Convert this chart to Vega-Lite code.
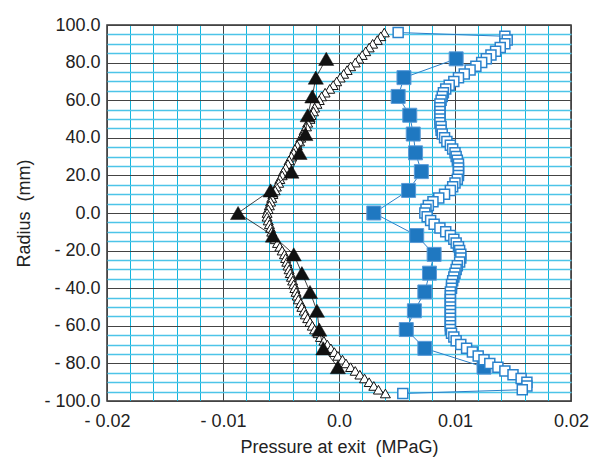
{
  "$schema": "https://vega.github.io/schema/vega-lite/v6.json",
  "autosize": {"type": "none"},
  "padding": {"left": 107, "top": 25, "right": 23, "bottom": 58},
  "width": 464,
  "height": 376,
  "background": "white",
  "config": {
    "view": {"stroke": "#333", "strokeWidth": 1.5},
    "axis": {
      "domain": false,
      "ticks": false,
      "tickSize": 0,
      "labelFont": "Liberation Sans",
      "labelFontSize": 18,
      "labelColor": "#222",
      "titleFont": "Liberation Sans",
      "titleFontSize": 18,
      "titleFontWeight": "normal",
      "titleColor": "#222",
      "labelOverlap": false,
      "labelFlush": false
    }
  },
  "datasets": {
    "ft": [
      {"r": 82, "p": -0.0011}, {"r": 72, "p": -0.0020}, {"r": 62, "p": -0.0023},
      {"r": 52, "p": -0.0027}, {"r": 42, "p": -0.0029}, {"r": 32, "p": -0.0034},
      {"r": 22, "p": -0.0041}, {"r": 12, "p": -0.0059}, {"r": 0, "p": -0.0087},
      {"r": -12, "p": -0.0057}, {"r": -22, "p": -0.0039}, {"r": -32, "p": -0.0032},
      {"r": -42, "p": -0.0025}, {"r": -52, "p": -0.0019}, {"r": -62, "p": -0.0017},
      {"r": -72, "p": -0.00135}, {"r": -82, "p": -0.0001}
    ],
    "ot": [
      {"r": 96, "p": 0.0039}, {"r": 94, "p": 0.0036}, {"r": 92, "p": 0.0033}, {"r": 90, "p": 0.0029},
      {"r": 88, "p": 0.0026}, {"r": 86, "p": 0.0023}, {"r": 84, "p": 0.0020}, {"r": 82, "p": 0.0017},
      {"r": 80, "p": 0.0014}, {"r": 78, "p": 0.0010}, {"r": 76, "p": 0.0007}, {"r": 74, "p": 0.0004},
      {"r": 72, "p": 0.0001}, {"r": 70, "p": -0.0002}, {"r": 68, "p": -0.0005}, {"r": 66, "p": -0.0008},
      {"r": 64, "p": -0.0012}, {"r": 62, "p": -0.0015}, {"r": 60, "p": -0.0017}, {"r": 58, "p": -0.0019},
      {"r": 56, "p": -0.0021}, {"r": 54, "p": -0.0022}, {"r": 52, "p": -0.0024}, {"r": 50, "p": -0.0025},
      {"r": 48, "p": -0.0027}, {"r": 46, "p": -0.0028}, {"r": 44, "p": -0.0030}, {"r": 42, "p": -0.0031},
      {"r": 40, "p": -0.0033}, {"r": 38, "p": -0.0034}, {"r": 36, "p": -0.0036}, {"r": 34, "p": -0.0038},
      {"r": 32, "p": -0.0039}, {"r": 30, "p": -0.0041}, {"r": 28, "p": -0.0043}, {"r": 26, "p": -0.0044},
      {"r": 24, "p": -0.0046}, {"r": 22, "p": -0.0048}, {"r": 20, "p": -0.0049}, {"r": 18, "p": -0.0051},
      {"r": 16, "p": -0.0052}, {"r": 14, "p": -0.0054}, {"r": 12, "p": -0.0055}, {"r": 10, "p": -0.0057},
      {"r": 8, "p": -0.0058}, {"r": 6, "p": -0.0059}, {"r": 4, "p": -0.0060}, {"r": 2, "p": -0.0061},
      {"r": 0, "p": -0.0062}, {"r": -2, "p": -0.0062}, {"r": -4, "p": -0.0061}, {"r": -6, "p": -0.0060},
      {"r": -8, "p": -0.0059}, {"r": -10, "p": -0.0058}, {"r": -12, "p": -0.0057}, {"r": -14, "p": -0.0055},
      {"r": -16, "p": -0.0053}, {"r": -18, "p": -0.0051}, {"r": -20, "p": -0.0049}, {"r": -22, "p": -0.0047},
      {"r": -24, "p": -0.0046}, {"r": -26, "p": -0.0045}, {"r": -28, "p": -0.0044}, {"r": -30, "p": -0.0043},
      {"r": -32, "p": -0.0042}, {"r": -34, "p": -0.0041}, {"r": -36, "p": -0.0040}, {"r": -38, "p": -0.0039},
      {"r": -40, "p": -0.0038}, {"r": -42, "p": -0.0037}, {"r": -44, "p": -0.0036}, {"r": -46, "p": -0.0035},
      {"r": -48, "p": -0.0033}, {"r": -50, "p": -0.0032}, {"r": -52, "p": -0.0030}, {"r": -54, "p": -0.0029},
      {"r": -56, "p": -0.0027}, {"r": -58, "p": -0.0025}, {"r": -60, "p": -0.0023}, {"r": -62, "p": -0.0021},
      {"r": -64, "p": -0.0018}, {"r": -66, "p": -0.0016}, {"r": -68, "p": -0.0013}, {"r": -70, "p": -0.0010},
      {"r": -72, "p": -0.0007}, {"r": -74, "p": -0.0004}, {"r": -76, "p": -0.0001}, {"r": -78, "p": 0.0003},
      {"r": -80, "p": 0.0006}, {"r": -82, "p": 0.0010}, {"r": -84, "p": 0.0014}, {"r": -86, "p": 0.0018},
      {"r": -88, "p": 0.0022}, {"r": -90, "p": 0.0026}, {"r": -92, "p": 0.0030}, {"r": -94, "p": 0.0034},
      {"r": -96, "p": 0.0040}
    ],
    "fs": [
      {"r": 82, "p": 0.0101}, {"r": 72, "p": 0.0056}, {"r": 62, "p": 0.0051},
      {"r": 52, "p": 0.0061}, {"r": 42, "p": 0.0064}, {"r": 32, "p": 0.0066},
      {"r": 22, "p": 0.0071}, {"r": 12, "p": 0.0060}, {"r": 0, "p": 0.0030},
      {"r": -12, "p": 0.0067}, {"r": -22, "p": 0.0082}, {"r": -32, "p": 0.0078},
      {"r": -42, "p": 0.0074}, {"r": -52, "p": 0.0065}, {"r": -62, "p": 0.0058},
      {"r": -72, "p": 0.0074}, {"r": -82, "p": 0.0125}
    ],
    "os": [
      {"r": 96, "p": 0.0051}, {"r": 94, "p": 0.0143}, {"r": 92, "p": 0.0145}, {"r": 90, "p": 0.0143},
      {"r": 88, "p": 0.0139}, {"r": 86, "p": 0.0135}, {"r": 84, "p": 0.0131}, {"r": 82, "p": 0.0127},
      {"r": 80, "p": 0.0123}, {"r": 78, "p": 0.0118}, {"r": 76, "p": 0.0113}, {"r": 74, "p": 0.0108},
      {"r": 72, "p": 0.0103}, {"r": 70, "p": 0.0099}, {"r": 68, "p": 0.0095}, {"r": 66, "p": 0.0092},
      {"r": 64, "p": 0.0090}, {"r": 62, "p": 0.0089}, {"r": 60, "p": 0.0088}, {"r": 58, "p": 0.0087},
      {"r": 56, "p": 0.0087}, {"r": 54, "p": 0.0087}, {"r": 52, "p": 0.0087}, {"r": 50, "p": 0.0087},
      {"r": 48, "p": 0.0087}, {"r": 46, "p": 0.0088}, {"r": 44, "p": 0.0088}, {"r": 42, "p": 0.0089},
      {"r": 40, "p": 0.0091}, {"r": 38, "p": 0.0093}, {"r": 36, "p": 0.0096}, {"r": 34, "p": 0.0098},
      {"r": 32, "p": 0.0100}, {"r": 30, "p": 0.0101}, {"r": 28, "p": 0.0102}, {"r": 26, "p": 0.0103},
      {"r": 24, "p": 0.0103}, {"r": 22, "p": 0.0103}, {"r": 20, "p": 0.0103}, {"r": 18, "p": 0.0102},
      {"r": 16, "p": 0.0100}, {"r": 14, "p": 0.0098}, {"r": 12, "p": 0.0096}, {"r": 10, "p": 0.0091},
      {"r": 8, "p": 0.0086}, {"r": 6, "p": 0.0081}, {"r": 4, "p": 0.0077}, {"r": 2, "p": 0.0075},
      {"r": 0, "p": 0.0074}, {"r": -2, "p": 0.0076}, {"r": -4, "p": 0.0079}, {"r": -6, "p": 0.0082},
      {"r": -8, "p": 0.0087}, {"r": -10, "p": 0.0092}, {"r": -12, "p": 0.0096}, {"r": -14, "p": 0.0099},
      {"r": -16, "p": 0.0101}, {"r": -18, "p": 0.0103}, {"r": -20, "p": 0.0104}, {"r": -22, "p": 0.0105},
      {"r": -24, "p": 0.0105}, {"r": -26, "p": 0.0104}, {"r": -28, "p": 0.0102}, {"r": -30, "p": 0.0101},
      {"r": -32, "p": 0.0100}, {"r": -34, "p": 0.0099}, {"r": -36, "p": 0.0098}, {"r": -38, "p": 0.0097},
      {"r": -40, "p": 0.0097}, {"r": -42, "p": 0.0096}, {"r": -44, "p": 0.0096}, {"r": -46, "p": 0.0096},
      {"r": -48, "p": 0.0096}, {"r": -50, "p": 0.0096}, {"r": -52, "p": 0.0096}, {"r": -54, "p": 0.0096},
      {"r": -56, "p": 0.0096}, {"r": -58, "p": 0.0096}, {"r": -60, "p": 0.0096}, {"r": -62, "p": 0.0096},
      {"r": -64, "p": 0.0097}, {"r": -66, "p": 0.0099}, {"r": -68, "p": 0.0101}, {"r": -70, "p": 0.0105},
      {"r": -72, "p": 0.0110}, {"r": -74, "p": 0.0115}, {"r": -76, "p": 0.0120}, {"r": -78, "p": 0.0125},
      {"r": -80, "p": 0.0130}, {"r": -82, "p": 0.0137}, {"r": -84, "p": 0.0143}, {"r": -86, "p": 0.0150},
      {"r": -88, "p": 0.0157}, {"r": -90, "p": 0.0162}, {"r": -92, "p": 0.0162}, {"r": -94, "p": 0.0158},
      {"r": -96, "p": 0.0055}
    ]
  },
  "encoding": {
    "x": {
      "field": "p", "type": "quantitative",
      "scale": {"domain": [-0.02, 0.02], "nice": false, "zero": false},
      "axis": {
        "title": "Pressure at exit\u00a0 (MPaG)",
        "values": [-0.02, -0.018, -0.016, -0.014, -0.012, -0.01, -0.008, -0.006, -0.004, -0.002, 0, 0.002, 0.004, 0.006, 0.008, 0.01, 0.012, 0.014, 0.016, 0.018, 0.02],
        "labelExpr": "abs(datum.value*100 - round(datum.value*100)) < 1e-6 ? (datum.value < -1e-9 ? '- ' + format(-datum.value, '.2f') : (abs(datum.value) < 1e-9 ? '0.0' : format(datum.value, '.2f'))) : ''",
        "labelPadding": 11,
        "titlePadding": 8,
        "gridColor": {"condition": {"test": "abs(datum.value*100 - round(datum.value*100)) < 1e-6", "value": "#444"}, "value": "#12b5dc"},
        "gridWidth": 1,
        "gridOpacity": 1
      }
    },
    "y": {
      "field": "r", "type": "quantitative",
      "scale": {"domain": [-100, 100], "nice": false, "zero": false},
      "axis": {
        "title": "Radius\u00a0 (mm)",
        "values": [-100, -95, -90, -85, -80, -75, -70, -65, -60, -55, -50, -45, -40, -35, -30, -25, -20, -15, -10, -5, 0, 5, 10, 15, 20, 25, 30, 35, 40, 45, 50, 55, 60, 65, 70, 75, 80, 85, 90, 95, 100],
        "labelExpr": "datum.value % 20 == 0 ? (datum.value < 0 ? '- ' + format(-datum.value, '.1f') : format(datum.value, '.1f')) : ''",
        "labelPadding": 7,
        "titlePadding": 10,
        "gridColor": {"condition": {"test": "datum.value % 20 == 0", "value": "#444"}, "value": "#4cc4e8"},
        "gridWidth": {"condition": {"test": "datum.value % 20 == 0", "value": 1}, "value": 1.5},
        "gridOpacity": 1
      }
    }
  },
  "layer": [
    {
      "data": {"name": "ot"},
      "mark": {"type": "line", "color": "#111", "strokeWidth": 0.8},
      "encoding": {"order": {"field": "r", "sort": "descending"}}
    },
    {
      "data": {"name": "ot"},
      "mark": {"type": "point", "shape": "triangle-up", "size": 100, "filled": true, "fill": "white", "stroke": "#111", "strokeWidth": 1, "opacity": 1}
    },
    {
      "data": {"name": "ft"},
      "mark": {"type": "line", "color": "#111", "strokeWidth": 0.8},
      "encoding": {"order": {"field": "r", "sort": "descending"}}
    },
    {
      "data": {"name": "ft"},
      "mark": {"type": "point", "shape": "triangle-up", "size": 230, "filled": true, "fill": "#111", "stroke": "#111", "strokeWidth": 0.5, "opacity": 1}
    },
    {
      "data": {"name": "fs"},
      "mark": {"type": "line", "color": "#2a80c8", "strokeWidth": 1},
      "encoding": {"order": {"field": "r", "sort": "descending"}}
    },
    {
      "data": {"name": "fs"},
      "mark": {"type": "point", "shape": "square", "size": 196, "filled": true, "fill": "#1f78c1", "stroke": "#5a9bd8", "strokeWidth": 1, "opacity": 1}
    },
    {
      "data": {"name": "os"},
      "mark": {"type": "line", "color": "#2a80c8", "strokeWidth": 1},
      "encoding": {"order": {"field": "r", "sort": "descending"}}
    },
    {
      "data": {"name": "os"},
      "mark": {"type": "point", "shape": "square", "size": 100, "filled": true, "fill": "white", "stroke": "#2a82cc", "strokeWidth": 1.5, "opacity": 1}
    }
  ]
}
